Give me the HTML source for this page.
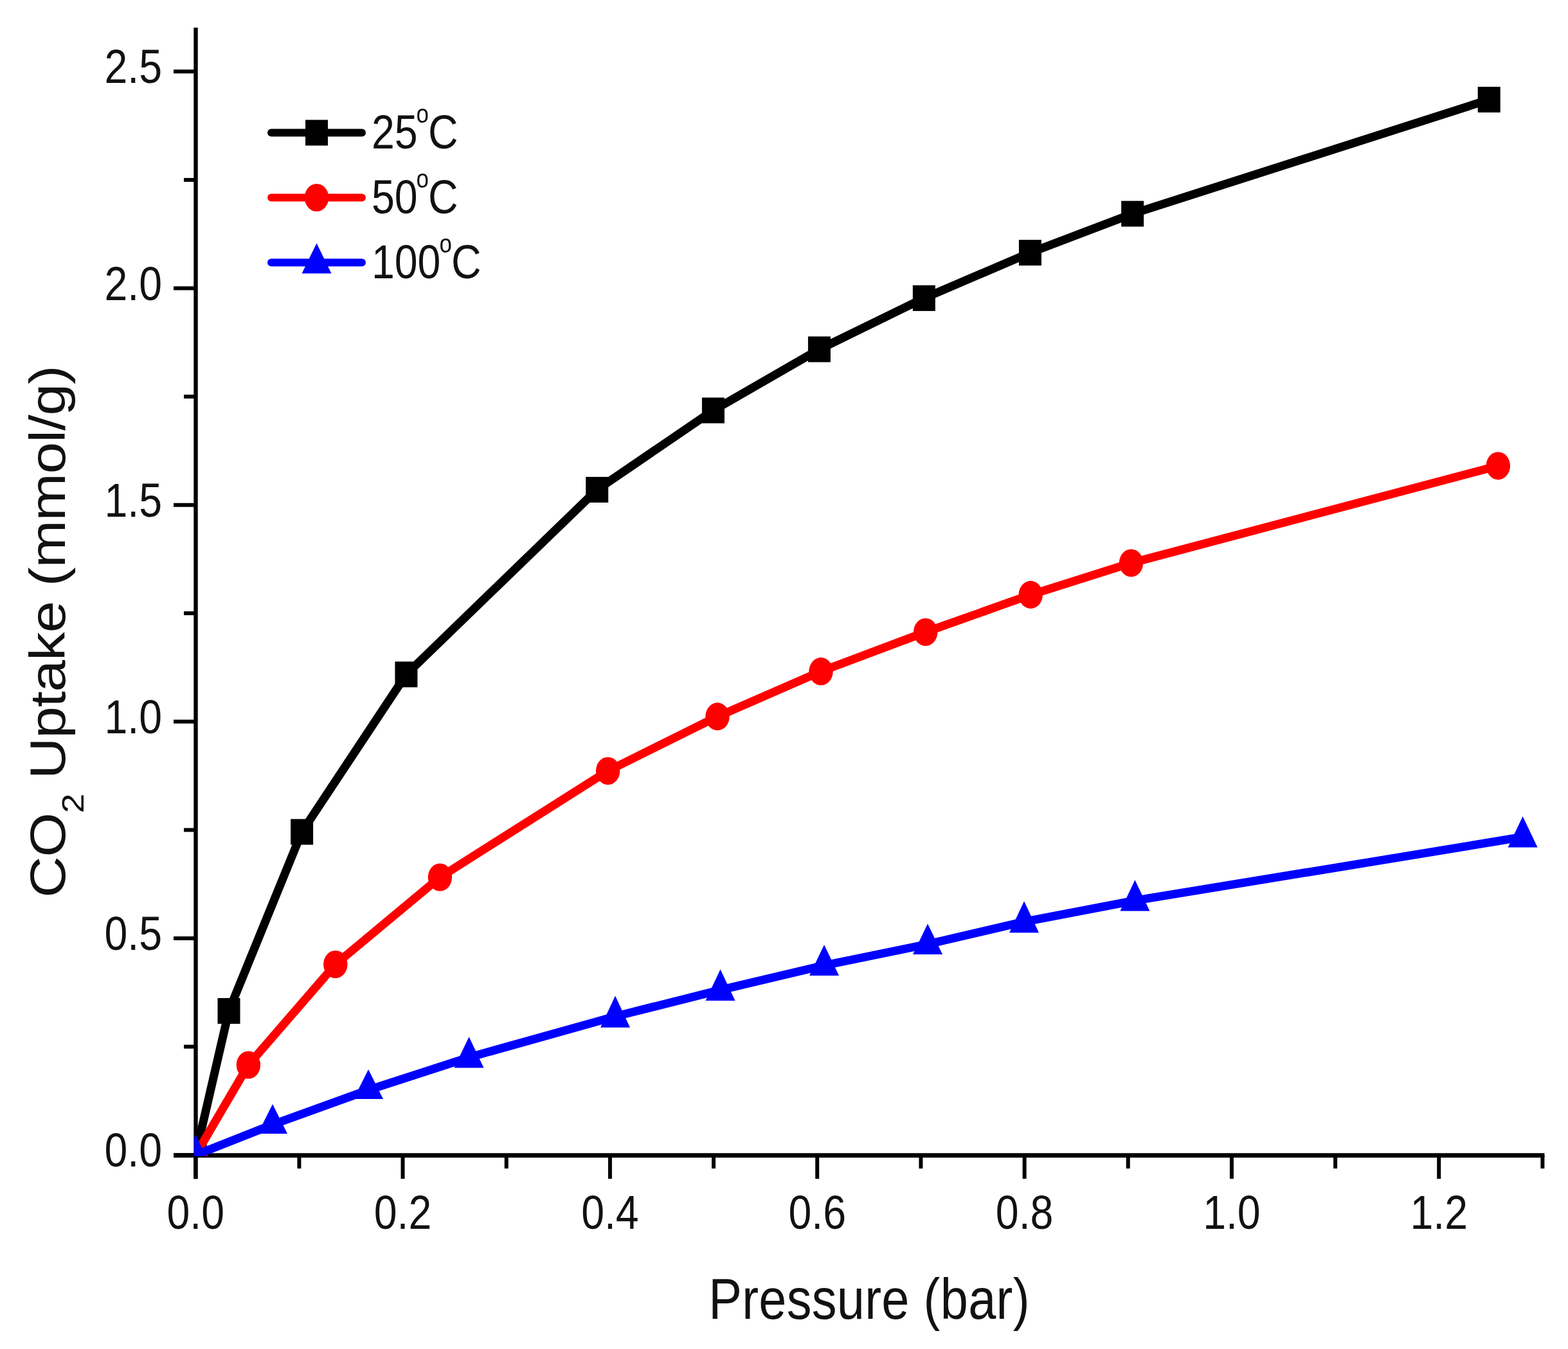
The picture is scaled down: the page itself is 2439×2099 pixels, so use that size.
<!DOCTYPE html><html><head><meta charset="utf-8"><title>CO2 Uptake vs Pressure</title><style>html,body{margin:0;padding:0;background:#fff;}svg{display:block;}text{font-family:"Liberation Sans", Arial, sans-serif;fill:#111;}</style></head><body>
<svg width="2439" height="2099" viewBox="0 0 2439 2099">
<defs><clipPath id="plot"><rect x="302" y="0" width="2137" height="1799"/></clipPath></defs>
<rect width="2439" height="2099" fill="#fff"/>
<g stroke="#000" fill="none">
<line x1="304.5" y1="43" x2="304.5" y2="1834.2" stroke-width="6.4"/>
<line x1="270" y1="1797.7" x2="2402.4" y2="1797.7" stroke-width="7"/>
</g>
<g stroke="#000" stroke-width="6" fill="none">
<line x1="304.2" y1="1797.2" x2="304.2" y2="1834.2"/>
<line x1="465.4" y1="1797.2" x2="465.4" y2="1818.2"/>
<line x1="626.5" y1="1797.2" x2="626.5" y2="1834.2"/>
<line x1="787.7" y1="1797.2" x2="787.7" y2="1818.2"/>
<line x1="948.9" y1="1797.2" x2="948.9" y2="1834.2"/>
<line x1="1110.0" y1="1797.2" x2="1110.0" y2="1818.2"/>
<line x1="1271.2" y1="1797.2" x2="1271.2" y2="1834.2"/>
<line x1="1432.4" y1="1797.2" x2="1432.4" y2="1818.2"/>
<line x1="1593.6" y1="1797.2" x2="1593.6" y2="1834.2"/>
<line x1="1754.7" y1="1797.2" x2="1754.7" y2="1818.2"/>
<line x1="1915.9" y1="1797.2" x2="1915.9" y2="1834.2"/>
<line x1="2077.1" y1="1797.2" x2="2077.1" y2="1818.2"/>
<line x1="2238.2" y1="1797.2" x2="2238.2" y2="1834.2"/>
<line x1="2399.4" y1="1797.2" x2="2399.4" y2="1818.2"/>
<line x1="270" y1="1797.2" x2="304.2" y2="1797.2"/>
<line x1="286" y1="1628.6" x2="304.2" y2="1628.6"/>
<line x1="270" y1="1460.0" x2="304.2" y2="1460.0"/>
<line x1="286" y1="1291.4" x2="304.2" y2="1291.4"/>
<line x1="270" y1="1122.8" x2="304.2" y2="1122.8"/>
<line x1="286" y1="954.2" x2="304.2" y2="954.2"/>
<line x1="270" y1="785.7" x2="304.2" y2="785.7"/>
<line x1="286" y1="617.1" x2="304.2" y2="617.1"/>
<line x1="270" y1="448.5" x2="304.2" y2="448.5"/>
<line x1="286" y1="279.9" x2="304.2" y2="279.9"/>
<line x1="270" y1="111.3" x2="304.2" y2="111.3"/>
</g>
<text transform="translate(252,1815.2) scale(0.87,1)" font-size="74" text-anchor="end">0.0</text>
<text transform="translate(252,1478.0) scale(0.87,1)" font-size="74" text-anchor="end">0.5</text>
<text transform="translate(252,1140.8) scale(0.87,1)" font-size="74" text-anchor="end">1.0</text>
<text transform="translate(252,803.7) scale(0.87,1)" font-size="74" text-anchor="end">1.5</text>
<text transform="translate(252,466.5) scale(0.87,1)" font-size="74" text-anchor="end">2.0</text>
<text transform="translate(252,129.3) scale(0.87,1)" font-size="74" text-anchor="end">2.5</text>
<text transform="translate(304.2,1912) scale(0.87,1)" font-size="74" text-anchor="middle">0.0</text>
<text transform="translate(626.5,1912) scale(0.87,1)" font-size="74" text-anchor="middle">0.2</text>
<text transform="translate(948.9,1912) scale(0.87,1)" font-size="74" text-anchor="middle">0.4</text>
<text transform="translate(1271.2,1912) scale(0.87,1)" font-size="74" text-anchor="middle">0.6</text>
<text transform="translate(1593.6,1912) scale(0.87,1)" font-size="74" text-anchor="middle">0.8</text>
<text transform="translate(1915.9,1912) scale(0.87,1)" font-size="74" text-anchor="middle">1.0</text>
<text transform="translate(2238.2,1912) scale(0.87,1)" font-size="74" text-anchor="middle">1.2</text>
<text transform="translate(1352,2052) scale(0.87,1)" font-size="89" text-anchor="middle" letter-spacing="0.4">Pressure (bar)</text>
<text transform="translate(101,983) scale(0.87,1) rotate(-90)" font-size="89" text-anchor="middle" letter-spacing="-1">CO<tspan font-size="55" dy="33.5">2</tspan><tspan dy="-33.5"> Uptake (mmol/g)</tspan></text>
<path d="M304.2,1797.2 L356.0,1573.0 L469.6,1294.4 L631.9,1049.4 L928.7,762.0 L1109.4,638.6 L1274.4,543.5 L1437.3,463.9 L1602.4,393.2 L1761.6,332.6 L2316.2,155.0" fill="none" stroke="#000" stroke-width="13.1" stroke-linejoin="round" stroke-linecap="round" clip-path="url(#plot)"/>
<g fill="#000">
<rect x="286.7" y="1777.2" width="35" height="40" clip-path="url(#plot)"/>
<rect x="338.5" y="1553.0" width="35" height="40"/>
<rect x="452.1" y="1274.4" width="35" height="40"/>
<rect x="614.4" y="1029.4" width="35" height="40"/>
<rect x="911.2" y="742.0" width="35" height="40"/>
<rect x="1091.9" y="618.6" width="35" height="40"/>
<rect x="1256.9" y="523.5" width="35" height="40"/>
<rect x="1419.8" y="443.9" width="35" height="40"/>
<rect x="1584.9" y="373.2" width="35" height="40"/>
<rect x="1744.1" y="312.6" width="35" height="40"/>
<rect x="2298.7" y="135.0" width="35" height="40"/>
</g>
<path d="M304.2,1797.2 L386.4,1657.0 L521.8,1500.5 L684.4,1365.0 L945.6,1199.5 L1116.0,1114.9 L1277.0,1044.7 L1439.7,983.5 L1603.2,925.4 L1759.5,876.0 L2330.3,724.8" fill="none" stroke="#f00" stroke-width="13.1" stroke-linejoin="round" stroke-linecap="round" clip-path="url(#plot)"/>
<g fill="#f00">
<ellipse cx="304.2" cy="1798.2" rx="18.7" ry="21.6" clip-path="url(#plot)"/>
<ellipse cx="386.4" cy="1657.0" rx="18.7" ry="21.6"/>
<ellipse cx="521.8" cy="1500.5" rx="18.7" ry="21.6"/>
<ellipse cx="684.4" cy="1365.0" rx="18.7" ry="21.6"/>
<ellipse cx="945.6" cy="1199.5" rx="18.7" ry="21.6"/>
<ellipse cx="1116.0" cy="1114.9" rx="18.7" ry="21.6"/>
<ellipse cx="1277.0" cy="1044.7" rx="18.7" ry="21.6"/>
<ellipse cx="1439.7" cy="983.5" rx="18.7" ry="21.6"/>
<ellipse cx="1603.2" cy="925.4" rx="18.7" ry="21.6"/>
<ellipse cx="1759.5" cy="876.0" rx="18.7" ry="21.6"/>
<ellipse cx="2330.3" cy="724.8" rx="18.7" ry="21.6"/>
</g>
<path d="M304.2,1797.2 L424.0,1749.9 L573.0,1696.0 L729.5,1645.2 L957.0,1581.5 L1120.5,1540.3 L1282.0,1502.1 L1443.0,1469.2 L1593.0,1434.2 L1765.4,1401.3 L2368.6,1302.3" fill="none" stroke="#00f" stroke-width="13.1" stroke-linejoin="round" stroke-linecap="round" clip-path="url(#plot)"/>
<g fill="#00f">
<polygon points="304.2,1765.2 327.2,1813.7 281.2,1813.7" clip-path="url(#plot)"/>
<polygon points="424.0,1717.9 447.0,1764.0 401.0,1764.0"/>
<polygon points="573.0,1664.0 596.0,1710.0 550.0,1710.0"/>
<polygon points="729.5,1613.2 752.5,1661.5 706.5,1661.5"/>
<polygon points="957.0,1549.5 980.0,1598.7 934.0,1598.7"/>
<polygon points="1120.5,1508.3 1143.5,1557.1 1097.5,1557.1"/>
<polygon points="1282.0,1470.1 1305.0,1517.9 1259.0,1517.9"/>
<polygon points="1443.0,1437.2 1466.0,1484.9 1420.0,1484.9"/>
<polygon points="1593.0,1402.2 1616.0,1451.2 1570.0,1451.2"/>
<polygon points="1765.4,1369.3 1788.4,1417.4 1742.4,1417.4"/>
<polygon points="2368.6,1270.3 2391.6,1318.4 2345.6,1318.4"/>
</g>
<line x1="422" y1="206.5" x2="563" y2="206.5" stroke="#000" stroke-width="12" stroke-linecap="round"/>
<rect x="475.0" y="186.5" width="35" height="40" fill="#000"/>
<text transform="translate(578,230.5) scale(0.87,1)" font-size="74">25<tspan font-size="40" dx="-2.3" dy="-40">o</tspan><tspan dx="-1" dy="40">C</tspan></text>
<line x1="422" y1="307.5" x2="563" y2="307.5" stroke="#f00" stroke-width="12" stroke-linecap="round"/>
<ellipse cx="492.5" cy="307.5" rx="18.7" ry="21.6" fill="#f00"/>
<text transform="translate(578,331.5) scale(0.87,1)" font-size="74">50<tspan font-size="40" dx="-2.3" dy="-40">o</tspan><tspan dx="-1" dy="40">C</tspan></text>
<line x1="422" y1="408.5" x2="563" y2="408.5" stroke="#00f" stroke-width="12" stroke-linecap="round"/>
<polygon points="492.5,378.5 515.5,425.5 469.5,425.5" fill="#00f"/>
<text transform="translate(578,432.5) scale(0.87,1)" font-size="74">100<tspan font-size="40" dx="-2.3" dy="-40">o</tspan><tspan dx="-1" dy="40">C</tspan></text>
</svg></body></html>
